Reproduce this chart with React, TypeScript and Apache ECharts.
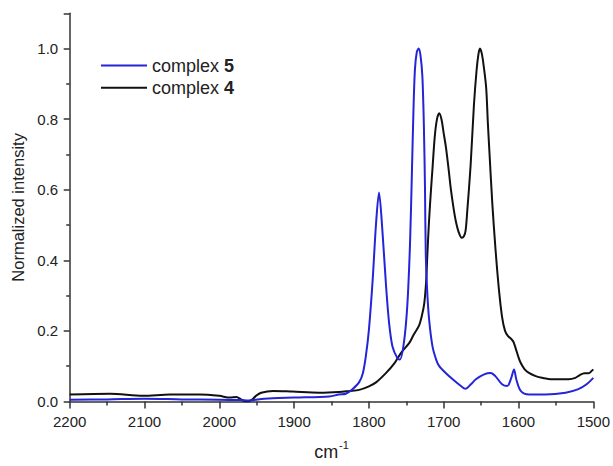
import React, { useEffect, useRef } from "react";
import * as echarts from "echarts";

// complex 5 (blue)
const wn5 = [2200, 2150, 2100, 2050, 2000, 1973, 1960, 1940, 1900, 1853, 1840, 1831, 1822, 1813, 1808, 1804, 1800, 1795, 1790.5, 1786.5, 1782, 1777, 1773, 1768.5, 1762, 1758.5, 1753, 1748.5, 1745, 1742.5, 1740.5, 1738.5, 1736, 1733.5, 1731, 1728.5, 1726.5, 1725, 1724, 1722, 1719.5, 1715, 1710, 1706, 1697, 1688, 1677, 1671, 1664, 1657, 1646, 1637, 1631, 1622, 1615, 1610, 1606, 1603, 1597, 1586, 1564, 1537, 1520, 1509, 1500];
const int5 = [0.005, 0.006, 0.008, 0.006, 0.005, 0.004, 0.003, 0.008, 0.011, 0.014, 0.02, 0.022, 0.035, 0.055, 0.081, 0.13, 0.203, 0.344, 0.503, 0.592, 0.485, 0.325, 0.222, 0.156, 0.123, 0.119, 0.17, 0.278, 0.45, 0.65, 0.82, 0.94, 0.99, 1.0, 0.98, 0.92, 0.78, 0.6, 0.42, 0.31, 0.232, 0.156, 0.118, 0.1, 0.08, 0.063, 0.044, 0.036, 0.048, 0.063, 0.077, 0.081, 0.072, 0.049, 0.044, 0.065, 0.091, 0.063, 0.03, 0.02, 0.02, 0.025, 0.035, 0.049, 0.067];

// complex 4 (black)
const wn4 = [2200, 2146, 2102, 2066, 2026, 2000, 1986, 1977, 1971, 1964, 1957, 1951, 1944, 1928, 1902, 1866, 1840, 1826, 1813, 1800, 1790, 1777, 1766, 1757, 1746, 1740, 1733, 1729, 1726, 1723.5, 1721.8, 1719.6, 1717, 1715, 1712, 1709, 1706, 1703, 1700, 1697, 1693, 1690.7, 1687, 1684, 1680, 1676, 1673, 1670.7, 1668.5, 1664, 1659.6, 1656, 1653.5, 1651.5, 1649, 1646.5, 1643.2, 1641, 1638.7, 1635, 1630.7, 1626.3, 1622, 1618, 1614, 1610, 1607, 1604, 1600, 1597, 1592, 1586, 1577, 1568.5, 1555, 1533, 1524, 1518, 1512, 1506, 1503, 1500];
const int4 = [0.02, 0.022, 0.016, 0.02, 0.02, 0.016, 0.011, 0.013, 0.006, 0.0, 0.004, 0.016, 0.025, 0.03, 0.028, 0.025, 0.027, 0.03, 0.033, 0.043, 0.055, 0.081, 0.108, 0.138, 0.166, 0.19, 0.215, 0.245, 0.278, 0.34, 0.419, 0.513, 0.6, 0.66, 0.75, 0.8, 0.817, 0.8, 0.76, 0.72, 0.65, 0.606, 0.55, 0.513, 0.48, 0.464, 0.468, 0.485, 0.54, 0.67, 0.84, 0.94, 0.985, 1.0, 0.985, 0.95, 0.888, 0.79, 0.7, 0.56, 0.43, 0.32, 0.24, 0.2, 0.185, 0.178, 0.17, 0.152, 0.125, 0.109, 0.092, 0.081, 0.072, 0.067, 0.063, 0.063, 0.067, 0.075, 0.08, 0.08, 0.085, 0.091];

const seriesNames = ["complex 5", "complex 4"];
const seriesNumbers = ["5", "4"];
const xTicks = { min: 1500, max: 2200, interval: 100 };
const yTicks = { min: 0, max: 1.1, interval: 0.2 };

const FONT = "'Liberation Sans', Arial, Helvetica, sans-serif";

export default function App() {
  const ref = useRef<HTMLDivElement>(null);
  useEffect(() => {
    if (!ref.current) return;
    const chart = echarts.init(ref.current, undefined, { renderer: "svg" });
    const pair = (xs: number[], ys: number[]) => xs.map((x, i) => [x, ys[i]]);
    chart.setOption({
      animation: false,
      backgroundColor: "#ffffff",
      textStyle: { fontFamily: FONT },
      grid: { left: 69.7, right: 18.3, top: 13.3, bottom: 60.6 },
      legend: {
        orient: "vertical",
        left: 96,
        top: 51.5,
        itemWidth: 46,
        itemHeight: 14,
        itemGap: 4.3,
        icon: "path://M0,0h46v2h-46z",
        symbolKeepAspect: true,
        data: seriesNames,
        formatter: (name: string) => {
          const i = seriesNames.indexOf(name);
          return "complex {b|" + seriesNumbers[i] + "}";
        },
        textStyle: {
          fontSize: 18,
          color: "#222",
          fontFamily: FONT,
          rich: { b: { fontSize: 18, fontWeight: "bold", color: "#222", fontFamily: FONT } },
        },
      },
      xAxis: {
        type: "value",
        min: xTicks.min,
        max: xTicks.max,
        interval: xTicks.interval,
        inverse: true,
        name: "cm{s|-1}",
        nameLocation: "middle",
        nameGap: 38,
        nameTextStyle: {
          fontSize: 18,
          color: "#222",
          fontFamily: FONT,
          rich: { s: { fontSize: 11, verticalAlign: "top", padding: [0, 0, 14, 1], color: "#222", fontFamily: FONT } },
        },
        axisLine: { show: true, lineStyle: { color: "#333", width: 1.5 } },
        axisTick: { show: true, length: 7, lineStyle: { color: "#333", width: 1.5 } },
        minorTick: { show: true, splitNumber: 2, length: 4, lineStyle: { color: "#333", width: 1.5 } },
        axisLabel: { fontSize: 15, color: "#222", margin: 12, fontFamily: FONT, formatter: (v: number) => String(v) },
        splitLine: { show: false },
      },
      yAxis: {
        type: "value",
        min: yTicks.min,
        max: yTicks.max,
        interval: yTicks.interval,
        name: "Normalized intensity",
        nameLocation: "middle",
        nameRotate: 90,
        nameGap: 43,
        nameTextStyle: { fontSize: 16.5, color: "#222", fontFamily: FONT },
        axisLine: { show: true, lineStyle: { color: "#333", width: 1.5 } },
        axisTick: { show: true, length: 6, lineStyle: { color: "#333", width: 1.5 } },
        minorTick: { show: true, splitNumber: 2, length: 3.5, lineStyle: { color: "#333", width: 1.5 } },
        axisLabel: {
          fontSize: 15,
          color: "#222",
          margin: 11.5,
          fontFamily: FONT,
          formatter: (v: number) => {
            const r = Math.round(v * 10);
            return r % 2 === 0 ? v.toFixed(1) : "";
          },
        },
        splitLine: { show: false },
      },
      series: [
        {
          name: seriesNames[0],
          type: "line",
          data: pair(wn5, int5),
          symbol: "none",
          smooth: 0.3,
          lineStyle: { color: "#2424d8", width: 2 },
          itemStyle: { color: "#2424d8" },
          z: 3,
        },
        {
          name: seriesNames[1],
          type: "line",
          data: pair(wn4, int4),
          symbol: "none",
          smooth: 0.3,
          lineStyle: { color: "#111111", width: 2 },
          itemStyle: { color: "#111111" },
          z: 2,
        },
      ],
    });
    return () => chart.dispose();
  }, []);
  return <div ref={ref} style={{ position: "fixed", left: 0, top: 0, width: 613, height: 466 }} />;
}
